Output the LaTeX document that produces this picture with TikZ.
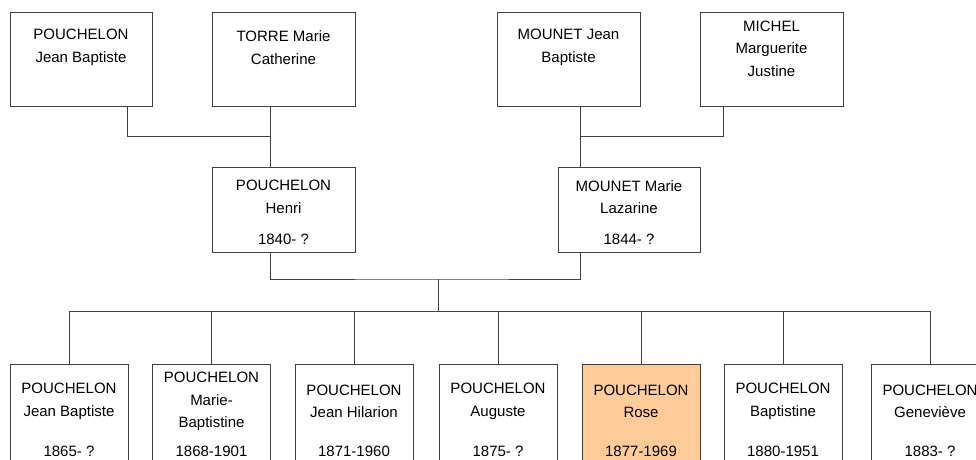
\documentclass[tikz,border=0pt]{standalone}
\usepackage{fontspec}
\setmainfont{Liberation Sans}
\usepackage{tikz}
\definecolor{TreeLine}{HTML}{404040}
\definecolor{TreeRose}{HTML}{FFCC99}
\tikzset{
  pbox/.style={draw=TreeLine,line width=1pt,fill=white,inner sep=0pt,minimum width=143pt},
  ptext/.style={align=center,inner sep=0pt,font=\fontsize{15}{22.5}\selectfont},
  link/.style={draw=TreeLine,line width=1pt}
}

\begin{document}
\begin{tikzpicture}[x=1pt,y=-1pt]
\clip (0,0) rectangle (976,459);
\fill[white] (0,0) rectangle (976,459);
% grandparents
\node[pbox,minimum width=142pt,minimum height=94pt] (jb) at (81,59) {};
\node[ptext] at ([yshift=-36pt]jb.north) {POUCHELON\\Jean Baptiste};
\node[pbox,minimum height=94pt] (torre) at (283.5,59) {};
\node[ptext] at ([yshift=-36pt]torre.north) {TORRE Marie\\Catherine};
\node[pbox,minimum height=94pt] (mjb) at (568.5,59) {};
\node[ptext] at ([yshift=-36pt]mjb.north) {MOUNET Jean\\Baptiste};
\node[pbox,minimum height=94pt] (michel) at (771.5,59) {};
\node[ptext] at ([yshift=-37pt]michel.north) {MICHEL\\Marguerite\\Justine};
% parents
\node[pbox,minimum height=85pt] (henri) at (283.5,209.5) {};
\node[ptext] at ([yshift=-30.5pt]henri.north) {POUCHELON\\Henri};
\node[ptext] at ([yshift=-73pt]henri.north) {1840- ?};
\node[pbox,minimum width=142pt,minimum height=85pt] (mmarie) at (629,209.5) {};
\node[ptext] at ([yshift=-30.5pt]mmarie.north) {MOUNET Marie\\Lazarine};
\node[ptext] at ([yshift=-73pt]mmarie.north) {1844- ?};
% children
\foreach \k/\cx/\nm/\dt/\fl in {
    c1/69/{POUCHELON\\Jean Baptiste}/{1865- ?}/white,
    c2/211.5/{POUCHELON\\Marie-\\Baptistine}/{1868-1901}/white,
    c3/354/{POUCHELON\\Jean Hilarion}/{1871-1960}/white,
    c4/498/{POUCHELON\\Auguste}/{1875- ?}/white,
    c5/641/{POUCHELON\\Rose}/{1877-1969}/TreeRose,
    c6/783/{POUCHELON\\Baptistine}/{1880-1951}/white,
    c7/930/{POUCHELON\\Geneviève}/{1883- ?}/white}{
  \node[pbox,minimum width=118pt,minimum height=105pt,anchor=north,fill=\fl] (\k) at (\cx,364) {};
  \node[ptext] at ([yshift=-37.5pt]\k.north) {\nm};
  \node[ptext] at ([yshift=-87pt]\k.north) {\dt};
}
% connectors
\coordinate (m1) at (271,136);
\coordinate (m2) at (581,136);
\coordinate (couple) at (438,279);
\coordinate (kids) at (438,311);
\draw[link] ([xshift=118pt]jb.south west) |- (m1);
\draw[link] ([xshift=59pt]torre.south west) -- ([xshift=59pt]henri.north west);
\draw[link] ([xshift=24pt]michel.south west) |- (m2);
\draw[link] ([xshift=84pt]mjb.south west) -- ([xshift=23pt]mmarie.north west);
\draw[link] ([xshift=59pt]henri.south west) |- (couple) -| ([xshift=23pt]mmarie.south west);
\draw[link] (couple) -- (kids);
\foreach \k in {c1,c2,c3,c4,c5,c6,c7}
  \draw[link] (kids) -| (\k.north);
\end{tikzpicture}
\end{document}
